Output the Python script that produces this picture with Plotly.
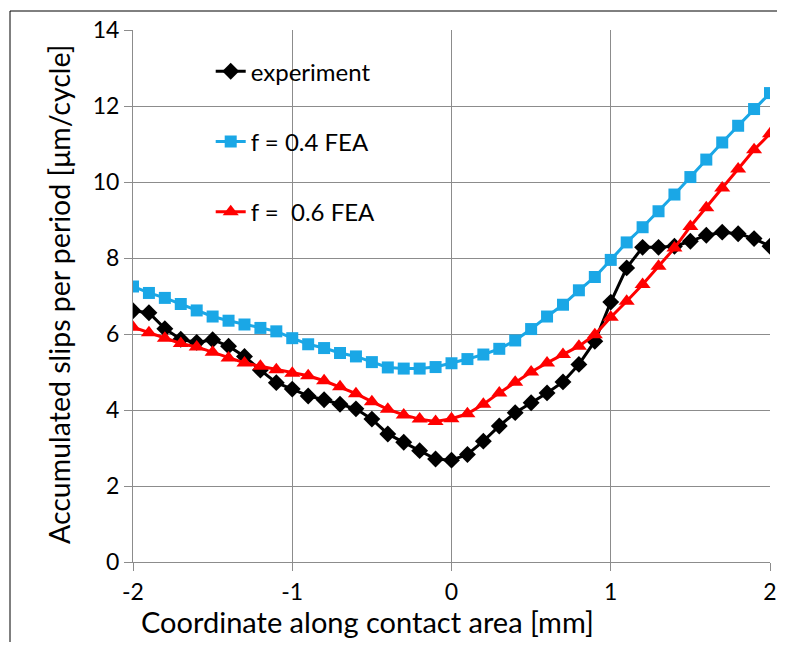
import plotly.graph_objects as go

x_mm = [-2.0, -1.9, -1.8, -1.7, -1.6, -1.5, -1.4, -1.3, -1.2, -1.1, -1.0,
        -0.9, -0.8, -0.7, -0.6, -0.5, -0.4, -0.3, -0.2, -0.1, 0.0,
        0.1, 0.2, 0.3, 0.4, 0.5, 0.6, 0.7, 0.8, 0.9, 1.0,
        1.1, 1.2, 1.3, 1.4, 1.5, 1.6, 1.7, 1.8, 1.9, 2.0]

experiment = [6.61, 6.56, 6.14, 5.86, 5.78, 5.85, 5.68, 5.41, 5.05, 4.72, 4.55,
              4.37, 4.27, 4.15, 4.03, 3.76, 3.37, 3.15, 2.93, 2.71, 2.68,
              2.83, 3.18, 3.58, 3.93, 4.19, 4.45, 4.74, 5.20, 5.81, 6.84,
              7.74, 8.28, 8.28, 8.31, 8.44, 8.60, 8.68, 8.64, 8.51, 8.31]

fea_04 = [7.25, 7.08, 6.95, 6.79, 6.62, 6.46, 6.35, 6.25, 6.16, 6.07, 5.89,
          5.73, 5.63, 5.50, 5.41, 5.26, 5.12, 5.09, 5.09, 5.13, 5.23,
          5.34, 5.46, 5.61, 5.83, 6.13, 6.46, 6.77, 7.15, 7.50, 7.95,
          8.41, 8.81, 9.23, 9.67, 10.13, 10.59, 11.04, 11.48, 11.92, 12.34]

fea_06 = [6.18, 6.03, 5.89, 5.75, 5.66, 5.52, 5.37, 5.24, 5.15, 5.06, 4.97,
          4.90, 4.77, 4.61, 4.43, 4.22, 4.02, 3.87, 3.76, 3.70, 3.77,
          3.90, 4.15, 4.45, 4.73, 5.00, 5.24, 5.46, 5.68, 5.98, 6.44,
          6.86, 7.30, 7.78, 8.26, 8.83, 9.32, 9.84, 10.34, 10.85, 11.27]

series_names = ["experiment", "f = 0.4 FEA", "f = \u00a00.6 FEA"]
x_ticks = [-2, -1, 0, 1, 2]
y_ticks = [0, 2, 4, 6, 8, 10, 12, 14]
x_title = "Coordinate along contact area [mm]"
y_title = "Accumulated slips per period [\u03bcm/cycle]"

FONT = "Lato, 'Open Sans', sans-serif"

fig = go.Figure()
fig.add_trace(go.Scatter(
    x=x_mm, y=experiment, name=series_names[0], mode="lines+markers",
    legendgroup="g1",
    line=dict(color="#000000", width=3),
    marker=dict(symbol="diamond", size=13, color="#000000")))
fig.add_trace(go.Scatter(
    x=x_mm, y=fea_04, name=series_names[1], mode="lines+markers",
    legendgroup="g2",
    line=dict(color="#1AA7E6", width=3),
    marker=dict(symbol="square", size=12, color="#1AA7E6")))
fig.add_trace(go.Scatter(
    x=x_mm, y=fea_06, name=series_names[2], mode="lines+markers",
    legendgroup="g3",
    line=dict(color="#FF0000", width=3),
    marker=dict(symbol="triangle-up", size=14, color="#FF0000")))

W, H = 769, 634
L, T = 125, 22
PW, PH = 637, 532
R = W - L - PW
B = H - T - PH

fig.update_layout(
    width=W, height=H,
    margin=dict(l=L, r=R, t=T, b=B, pad=0, autoexpand=False),
    paper_bgcolor="white", plot_bgcolor="white",
    font=dict(family=FONT, size=23, color="#000000"),
    showlegend=True,
    legend=dict(x=0.122, y=0.964, xanchor="left", yanchor="top",
                traceorder="grouped", tracegroupgap=36,
                font=dict(family=FONT, size=24, color="#000000"),
                bgcolor="rgba(0,0,0,0)"),
    xaxis=dict(range=[-2, 2], tickvals=x_ticks, ticktext=[str(v) for v in x_ticks],
               automargin=False,
               showgrid=True, gridcolor="#8c8c8c", gridwidth=1,
               showline=True, linecolor="#8c8c8c", linewidth=1,
               ticks="outside", ticklen=8, tickcolor="#8c8c8c",
               ticklabelstandoff=1,
               zeroline=False, tickfont=dict(size=23)),
    yaxis=dict(range=[0, 14], tickvals=y_ticks, ticktext=[str(v) for v in y_ticks],
               automargin=False,
               showgrid=True, gridcolor="#8c8c8c", gridwidth=1,
               showline=True, linecolor="#8c8c8c", linewidth=1,
               ticks="outside", ticklen=8, tickcolor="#8c8c8c",
               zeroline=False, tickfont=dict(size=23)),
    annotations=[
        dict(text=x_title, xref="paper", yref="paper",
             x=(359.5 - L) / PW, y=1 - (613 - T) / PH,
             xanchor="center", yanchor="middle", showarrow=False,
             borderpad=0,
             font=dict(family=FONT, size=29, color="#000000")),
        dict(text=y_title, xref="paper", yref="paper", textangle=-90,
             x=(51 - L) / PW, y=1 - (287 - T) / PH,
             xanchor="center", yanchor="middle", showarrow=False,
             font=dict(family=FONT, size=28.5, color="#000000")),
    ],
    shapes=[
        dict(type="line", xref="paper", yref="paper",
             x0=(2 - L) / PW, x1=(W + 40 - L) / PW,
             y0=1 + (T - 3) / PH, y1=1 + (T - 3) / PH,
             line=dict(color="#000000", width=1), layer="above"),
        dict(type="line", xref="paper", yref="paper",
             x0=(2 - L) / PW, x1=(2 - L) / PW,
             y0=1 + (T - 3) / PH, y1=-(H + 40 - T - PH) / PH,
             line=dict(color="#000000", width=1), layer="above"),
    ],
)

fig.write_html("out.html")
